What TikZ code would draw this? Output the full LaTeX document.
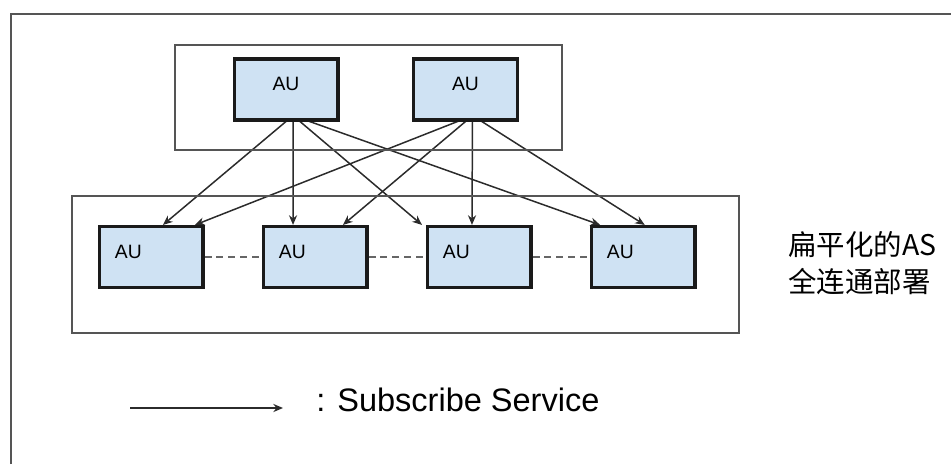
\documentclass[tikz,border=0pt]{standalone}
\usepackage{fontspec}
\setmainfont{Liberation Sans}
\newfontfamily\cjkfont{Noto Sans CJK SC}
\usetikzlibrary{arrows.meta,backgrounds}
\definecolor{aufill}{HTML}{CFE2F3}
\definecolor{auedge}{HTML}{1A1A1A}
\definecolor{framegrey}{HTML}{555555}
\definecolor{wire}{HTML}{2B2B2B}
\definecolor{peergrey}{HTML}{666666}
\tikzset{aubox/.style={draw=auedge,fill=aufill,line width=1.9pt,minimum width=59pt,minimum height=34.6pt,font=\fontsize{11}{13}\selectfont},topau/.style={aubox,text depth=7pt},rowau/.style={aubox,text depth=5.7pt,inner xsep=9pt,text width=41pt,align=left},groupbox/.style={draw=framegrey,line width=1.1pt},outerline/.style={draw=framegrey,line width=1.2pt},subscribe/.style={draw=wire,line width=.85pt,-{Stealth[length=5.5pt,width=4.6pt]}},peerlink/.style={draw=peergrey,line width=.9pt,dash pattern=on 4pt off 2.8pt},notelabel/.style={font=\cjkfont\fontsize{16.2}{21}\selectfont,align=left,anchor=west,inner sep=0pt}}

\begin{document}
\begin{tikzpicture}[x=.02cm,y=-.02cm]
\useasboundingbox (0,0) rectangle (951,464);
\draw[outerline] (11,464) |- (951,14);
% the two AS groups
\draw[groupbox] (175,45) rectangle (562,150);
\draw[groupbox] (72,196) rectangle (739,333);
\node[topau] (t1) at (286,89.5) {AU};
\node[topau] (t2) at (465.5,89.5) {AU};
\node[rowau] (b1) at (151,257) {AU};
\node[rowau] (b2) at (315,257) {AU};
\node[rowau] (b3) at (479,257) {AU};
\node[rowau] (b4) at (643,257) {AU};
\begin{scope}[on background layer]
\draw[subscribe] ([xshift=4pt,yshift=3.4pt]t1.south) -- ([xshift=6.8pt]b1.north);
\draw[subscribe] ([xshift=4pt,yshift=3.4pt]t1.south) -- ([xshift=-12.5pt]b2.north);
\draw[subscribe] ([xshift=4pt,yshift=3.4pt]t1.south) -- ([xshift=-2pt]b3.north west);
\draw[subscribe] ([xshift=4pt,yshift=3.4pt]t1.south) -- ([xshift=-24.4pt]b4.north);
\draw[subscribe] ([xshift=4pt,yshift=3.4pt]t2.south) -- ([xshift=25pt]b1.north);
\draw[subscribe] ([xshift=4pt,yshift=3.4pt]t2.south) -- ([xshift=15.9pt]b2.north);
\draw[subscribe] ([xshift=4pt,yshift=3.4pt]t2.south) -- ([xshift=-4pt]b3.north);
\draw[subscribe] ([xshift=4pt,yshift=3.4pt]t2.south) -- ([xshift=1pt]b4.north);
\end{scope}
\draw[peerlink] (b1) -- (b2);
\draw[peerlink] (b2) -- (b3);
\draw[peerlink] (b3) -- (b4);
\node[notelabel] (note) at (788,263) {扁平化的AS\\全连通部署};
% legend
\coordinate (legstart) at (130,408);
\coordinate (legend) at (283,408);
\draw[subscribe,line width=1.1pt] (legstart) -- (legend);
\node[anchor=west,inner sep=0pt,font=\fontsize{18.5}{22}\selectfont] (legtext) at (316,400) {: Subscribe Service};
\end{tikzpicture}
\end{document}
